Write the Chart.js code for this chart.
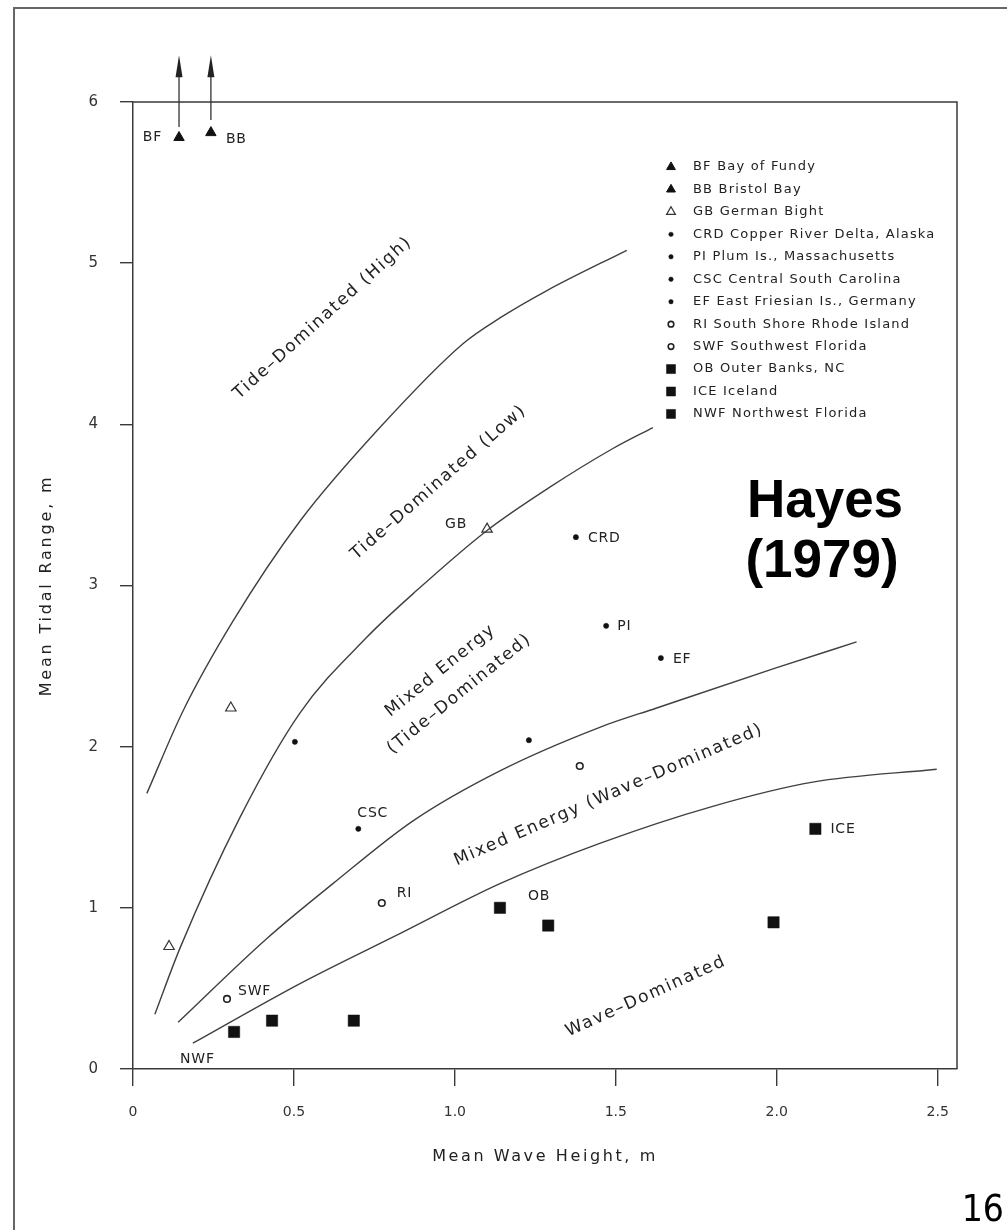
<!DOCTYPE html>
<html>
<head>
<meta charset="utf-8">
<title>Hayes (1979) - Mean Tidal Range vs Mean Wave Height</title>
<script src="https://cdn.jsdelivr.net/npm/chart.js@4.4.1/dist/chart.umd.min.js"></script>
<style>
  html, body { margin: 0; padding: 0; background: #fff; }
  #page { position: relative; width: 1007px; height: 1230px; overflow: hidden; }
  #frame { position: absolute; left: 13px; top: 7px; right: -4px; bottom: -4px; border-top: 2px solid #666; border-left: 2px solid #666; }
  #chart { position: absolute; left: 0; top: 0; }
</style>
</head>
<body>
<div id="page">
  <div id="frame"></div>
  <canvas id="chart" width="1007" height="1230"></canvas>
</div>
<script>
'use strict';

/* AXES */
const xTicks = [0, 0.5, 1.0, 1.5, 2.0, 2.5];
const yTicks = [0, 1, 2, 3, 4, 5, 6];

/* BOUNDARY CURVES (mean wave height, mean tidal range) */
const tideHighX = [0.043, 0.155, 0.311, 0.519, 0.767, 1.025, 1.140, 1.286, 1.534];
const tideHighY = [1.71, 2.22, 2.78, 3.40, 3.98, 4.50, 4.66, 4.83, 5.08];
const tideLowX = [0.068, 0.146, 0.332, 0.519, 0.727, 0.882, 1.099, 1.295, 1.491, 1.615];
const tideLowY = [0.34, 0.75, 1.56, 2.21, 2.68, 2.97, 3.34, 3.61, 3.85, 3.98];
const mixedTideX = [0.140, 0.416, 0.621, 0.870, 1.140, 1.450, 1.627, 2.000, 2.248];
const mixedTideY = [0.29, 0.81, 1.15, 1.54, 1.85, 2.12, 2.24, 2.49, 2.65];
const mixedWaveX = [0.186, 0.519, 0.829, 1.140, 1.450, 1.801, 2.112, 2.497];
const mixedWaveY = [0.16, 0.53, 0.84, 1.15, 1.40, 1.63, 1.78, 1.86];

/* SITES */
const triFilledX = [0.143, 0.242];
const triFilledY = [5.78, 5.81];
const triFilledLbl = ['BF', 'BB'];
const triOpenX = [0.112, 0.304, 1.100];
const triOpenY = [0.76, 2.24, 3.35];
const triOpenLbl = ['', '', 'GB'];
const dotX = [0.503, 0.700, 1.230, 1.376, 1.470, 1.640];
const dotY = [2.03, 1.49, 2.04, 3.30, 2.75, 2.55];
const dotLbl = ['', 'CSC', '', 'CRD', 'PI', 'EF'];
const ringX = [0.292, 0.773, 1.388];
const ringY = [0.435, 1.03, 1.88];
const ringLbl = ['SWF', 'RI', ''];
const squareX = [0.314, 0.432, 0.686, 1.140, 1.290, 1.990, 2.120];
const squareY = [0.23, 0.30, 0.30, 1.00, 0.89, 0.91, 1.49];
const squareLbl = ['NWF', '', '', 'OB', '', '', 'ICE'];

/* OFF-SCALE ARROWS (BF, BB) */
const arrowX = [0.143, 0.242];
const arrowFromY = [5.845, 5.888];
const arrowToY = [6.29, 6.29];

/* LEGEND */
const legendCodes = ['BF', 'BB', 'GB', 'CRD', 'PI', 'CSC', 'EF', 'RI', 'SWF', 'OB', 'ICE', 'NWF'];
const legendNames = ['Bay of Fundy', 'Bristol Bay', 'German Bight', 'Copper River Delta, Alaska',
  'Plum Is., Massachusetts', 'Central South Carolina', 'East Friesian Is., Germany',
  'South Shore Rhode Island', 'Southwest Florida', 'Outer Banks, NC', 'Iceland', 'Northwest Florida'];
const legendSymbols = ['triFilled', 'triFilled', 'triOpen', 'dot', 'dot', 'dot', 'dot', 'ring', 'ring', 'square', 'square', 'square'];

/* REGION NAMES */
const regionText = [['Tide\u2013Dominated (High)'], ['Tide\u2013Dominated (Low)'],
  ['Mixed Energy', '(Tide\u2013Dominated)'], ['Mixed Energy (Wave\u2013Dominated)'], ['Wave\u2013Dominated']];
const regionX = [0.59, 0.95, 0.985, 1.478, 1.594];
const regionY = [4.66, 3.64, 2.40, 1.70, 0.45];

/* STYLE */
const FONT = '"DejaVu Sans", Verdana, sans-serif';
const INK = '#222';
const AXIS = '#3a3a3a';
const regionAngle = [-42, -41, -39, -23.4, -24.4];
const symbolStyle = {
  triFilled: { pointStyle: 'triangle', radius: 6, fill: '#111', stroke: '#111', width: 1 },
  triOpen: { pointStyle: 'triangle', radius: 6, fill: 'rgba(0,0,0,0)', stroke: '#333', width: 1.2 },
  dot: { pointStyle: 'circle', radius: 2.6, fill: '#111', stroke: '#111', width: 0.5 },
  ring: { pointStyle: 'circle', radius: 3.3, fill: '#fff', stroke: '#222', width: 1.6 },
  square: { pointStyle: 'rect', radius: 8, fill: '#111', stroke: '#111', width: 0.5 }
};
const labelPos = {
  BF: { dx: -17, dy: 0, align: 'right' }, BB: { dx: 15, dy: 7, align: 'left' },
  GB: { dx: -31, dy: -5, align: 'center' }, CRD: { dx: 12, dy: 1, align: 'left' },
  PI: { dx: 11, dy: 1, align: 'left' }, EF: { dx: 12, dy: 1, align: 'left' },
  CSC: { dx: -1, dy: -16, align: 'left' }, RI: { dx: 15, dy: -10, align: 'left' },
  SWF: { dx: 11, dy: -8, align: 'left' }, NWF: { dx: -54, dy: 27, align: 'left' },
  OB: { dx: 28, dy: -11, align: 'left' }, ICE: { dx: 15, dy: 0, align: 'left' }
};

function pts(xs, ys) { return xs.map((v, i) => ({ x: v, y: ys[i] })); }

function siteSet(xs, ys, key) {
  const s = symbolStyle[key];
  return {
    data: pts(xs, ys), showLine: false, pointStyle: s.pointStyle, pointRadius: s.radius,
    pointBackgroundColor: s.fill, pointBorderColor: s.stroke, pointBorderWidth: s.width, pointHoverRadius: s.radius
  };
}

function curveSet(xs, ys) {
  return {
    data: pts(xs, ys), showLine: true, borderColor: '#404040', borderWidth: 1.4,
    pointRadius: 0, pointHoverRadius: 0, cubicInterpolationMode: 'monotone', fill: false
  };
}

function text(ctx, str, x, y, font, align, spacing, angle) {
  ctx.save();
  ctx.translate(x, y);
  if (angle) ctx.rotate(angle * Math.PI / 180);
  ctx.font = font;
  ctx.letterSpacing = (spacing || 0) + 'px';
  ctx.textAlign = align || 'left';
  ctx.textBaseline = 'middle';
  ctx.fillText(str, 0, 0);
  ctx.restore();
}

/* OVERLAY: frame, arrows, labels, legend, titles */
const overlay = {
  id: 'overlay',
  afterDraw(chart) {
    const { ctx, chartArea: a } = chart;
    const xs = chart.scales.x, ys = chart.scales.y;
    ctx.save();
    ctx.strokeStyle = AXIS;
    ctx.lineWidth = 1.5;
    ctx.beginPath();
    ctx.moveTo(a.left, a.top); ctx.lineTo(a.right, a.top); ctx.lineTo(a.right, a.bottom);
    ctx.stroke();

    // arrows
    ctx.strokeStyle = '#333'; ctx.fillStyle = '#222'; ctx.lineWidth = 1.3;
    arrowX.forEach((v, i) => {
      const px = xs.getPixelForValue(v);
      const y0 = ys.getPixelForValue(arrowFromY[i]);
      const y1 = ys.getPixelForValue(arrowToY[i]);
      ctx.beginPath(); ctx.moveTo(px, y0); ctx.lineTo(px, y1 + 10); ctx.stroke();
      ctx.beginPath(); ctx.moveTo(px, y1); ctx.lineTo(px - 3.5, y1 + 22); ctx.lineTo(px + 3.5, y1 + 22); ctx.closePath(); ctx.fill();
    });

    // site labels
    ctx.fillStyle = INK;
    [[triFilledX, triFilledY, triFilledLbl], [triOpenX, triOpenY, triOpenLbl], [dotX, dotY, dotLbl],
     [ringX, ringY, ringLbl], [squareX, squareY, squareLbl]].forEach(([gx, gy, gl]) => {
      gl.forEach((lbl, i) => {
        if (!lbl) return;
        const p = labelPos[lbl];
        text(ctx, lbl, xs.getPixelForValue(gx[i]) + p.dx, ys.getPixelForValue(gy[i]) + p.dy,
          '14px ' + FONT, p.align, 0.8);
      });
    });

    // region names
    regionText.forEach((lines, i) => {
      const cx = xs.getPixelForValue(regionX[i]), cy = ys.getPixelForValue(regionY[i]);
      ctx.save();
      ctx.translate(cx, cy);
      ctx.rotate(regionAngle[i] * Math.PI / 180);
      lines.forEach((ln, j) => {
        text(ctx, ln, 0, (j - (lines.length - 1) / 2) * 30, '17px ' + FONT, 'center', 1.8);
      });
      ctx.restore();
    });

    // legend
    legendCodes.forEach((code, i) => {
      const ly = 167 + i * 22.45;
      const s = symbolStyle[legendSymbols[i]];
      ctx.fillStyle = s.fill; ctx.strokeStyle = s.stroke; ctx.lineWidth = s.width;
      const r = s.pointStyle === 'rect' ? s.radius * 0.8 : s.radius * 0.85;
      Chart.helpers.drawPoint(ctx, { pointStyle: s.pointStyle, radius: r, rotation: 0, borderWidth: s.width }, 671, ly);
      ctx.fillStyle = INK;
      text(ctx, code + ' ' + legendNames[i], 693, ly, '13px ' + FONT, 'left', 1.2);
    });

    // axis titles
    ctx.fillStyle = INK;
    text(ctx, 'Mean Wave Height, m', (a.left + a.right) / 2, 1157, '16px ' + FONT, 'center', 2.6);
    text(ctx, 'Mean Tidal Range, m', 47, (a.top + a.bottom) / 2, '16px ' + FONT, 'center', 2.8, -90);

    // citation and page number
    ctx.fillStyle = '#000';
    ctx.font = 'bold 53px "Liberation Sans", Arial, sans-serif';
    ctx.letterSpacing = '0px';
    ctx.textAlign = 'center';
    ctx.textBaseline = 'alphabetic';
    ctx.fillText('Hayes', 825, 517);
    ctx.fillText('(1979)', 822, 577);
    ctx.font = '37px "DejaVu Sans Condensed", "DejaVu Sans", sans-serif';
    ctx.textAlign = 'right';
    ctx.fillText('16', 1004, 1221);
    ctx.restore();
  }
};

new Chart(document.getElementById('chart'), {
  type: 'scatter',
  data: {
    datasets: [
      siteSet(triFilledX, triFilledY, 'triFilled'),
      siteSet(triOpenX, triOpenY, 'triOpen'),
      siteSet(dotX, dotY, 'dot'),
      siteSet(ringX, ringY, 'ring'),
      siteSet(squareX, squareY, 'square'),
      curveSet(tideHighX, tideHighY),
      curveSet(tideLowX, tideLowY),
      curveSet(mixedTideX, mixedTideY),
      curveSet(mixedWaveX, mixedWaveY)
    ]
  },
  options: {
    responsive: false,
    animation: false,
    events: [],
    layout: { padding: { left: 0, top: 102, right: 50, bottom: 0 } },
    plugins: { legend: { display: false }, tooltip: { enabled: false } },
    scales: {
      x: {
        type: 'linear', min: 0, max: 2.56,
        afterBuildTicks: s => { s.ticks = xTicks.map(v => ({ value: v })); },
        afterFit: s => { s.height = 161; },
        grid: { drawOnChartArea: false, drawTicks: true, tickLength: 17, color: AXIS, lineWidth: 1.4 },
        border: { display: true, color: AXIS, width: 1.5 },
        ticks: { padding: 18, color: '#333', font: { family: FONT, size: 14 },
          callback: v => v === 0 ? '0' : v.toFixed(1) }
      },
      y: {
        type: 'linear', min: 0, max: 6,
        afterBuildTicks: s => { s.ticks = yTicks.map(v => ({ value: v })); },
        afterFit: s => { s.width = 133; },
        grid: { drawOnChartArea: false, drawTicks: true, tickLength: 13, color: AXIS, lineWidth: 1.4 },
        border: { display: true, color: AXIS, width: 1.5 },
        ticks: { padding: 22, color: '#333', font: { family: FONT, size: 15 },
          callback: v => String(v) }
      }
    }
  },
  plugins: [overlay]
});
</script>
</body>
</html>
